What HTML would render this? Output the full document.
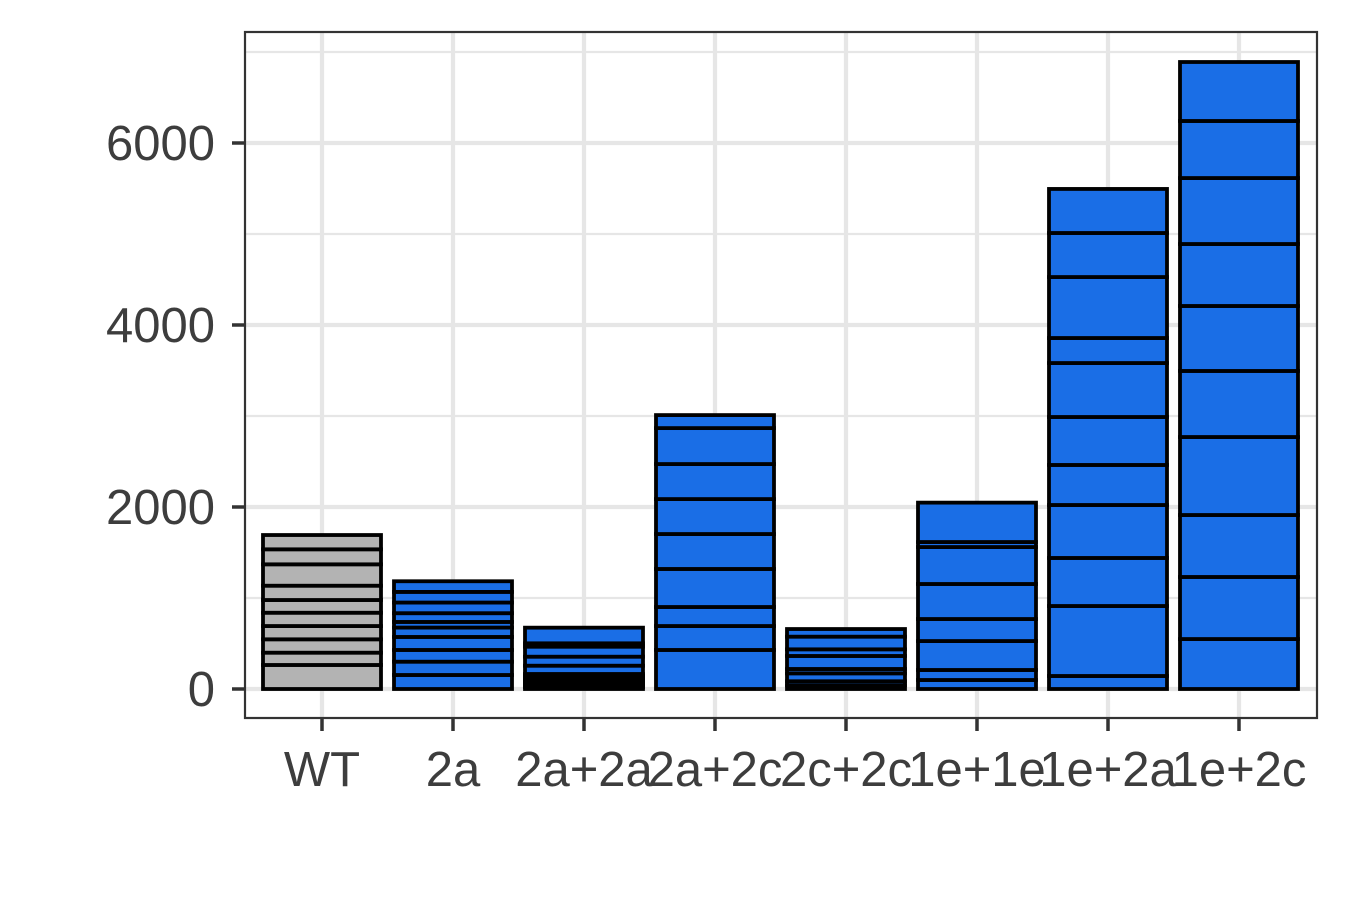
<!DOCTYPE html>
<html><head><meta charset="utf-8"><style>
body{margin:0;background:#fff;}
svg{display:block;font-family:"Liberation Sans",Arial,sans-serif;}
</style></head><body>
<svg id="chart" width="1350" height="900"></svg>
<script>
const categories=["WT","2a","2a+2a","2a+2c","2c+2c","1e+1e","1e+2a","1e+2c"];
const segWT=[264,135,147,146,146,140,157,235,165,157];
const seg2a=[154,146,129,143,103,62,96,117,117,117];
const seg2a2a=[20,18,15,17,16,14,18,16,15,16,91,99,110,37,172];
const seg2a2c=[429,263,209,418,384,384,385,395,143];
const seg2c2c=[40,45,87,48,143,73,139,84];
const seg1e1e=[99,110,318,242,385,406,55,433];
const seg1e2a=[143,769,528,582,440,527,593,275,670,484,484];
const seg1e2c=[549,682,681,857,726,714,681,725,627,648];
const segments=[segWT,seg2a,seg2a2a,seg2a2c,seg2c2c,seg1e1e,seg1e2a,seg1e2c];
const fills=["#b3b3b3","#1a6ee6","#1a6ee6","#1a6ee6","#1a6ee6","#1a6ee6","#1a6ee6","#1a6ee6"];
const yTicks=[0,2000,4000,6000];
const yMinor=[1000,3000,5000,7000];

const svg=document.getElementById('chart');
const NS='http://www.w3.org/2000/svg';
const P={l:245,r:1317,t:32,b:718};
const y=v=>689-v*0.091;
const x=i=>322+i*131;
const bw=118;
function mk(tag,attrs,parent){const e=document.createElementNS(NS,tag);for(const k in attrs)e.setAttribute(k,attrs[k]);(parent||svg).appendChild(e);return e;}
const grid=mk('g',{});


yMinor.forEach(v=>{const l=mk('line',{x1:P.l,x2:P.r,y1:y(v),y2:y(v),stroke:'#e6e6e6','stroke-width':2.2},grid);

});
yTicks.forEach(v=>{const l=mk('line',{x1:P.l,x2:P.r,y1:y(v),y2:y(v),stroke:'#e6e6e6','stroke-width':4.2},grid);

});
categories.forEach((c,i)=>{const l=mk('line',{x1:x(i),x2:x(i),y1:P.t,y2:P.b,stroke:'#e6e6e6','stroke-width':4.2},grid);

});
categories.forEach((c,i)=>{
  const g=mk('g',{});
  
  
  let cum=0;
  segments[i].forEach(v=>{
    const r=mk('rect',{x:x(i)-bw/2,y:y(cum+v),width:bw,height:y(cum)-y(cum+v),fill:fills[i],stroke:'#000','stroke-width':3.8},g);
    
    
    cum+=v;
  });
});
const frame=mk('rect',{x:P.l,y:P.t,width:P.r-P.l,height:P.b-P.t,fill:'none',stroke:'#333','stroke-width':2.2});


yTicks.forEach(v=>{
  const t=mk('line',{x1:P.l-13,x2:P.l,y1:y(v),y2:y(v),stroke:'#333','stroke-width':3.5});
  
  
  const tx=mk('text',{x:P.l-30,y:y(v)+17,'text-anchor':'end','font-size':49,fill:'#3d3d3d'});
  tx.textContent=v;
  
  
});
categories.forEach((c,i)=>{
  const t=mk('line',{x1:x(i),x2:x(i),y1:P.b,y2:P.b+13,stroke:'#333','stroke-width':3.5});
  
  
  const tx=mk('text',{x:x(i),y:786,'text-anchor':'middle','font-size':49,fill:'#3d3d3d'});
  tx.textContent=c;
  
  
});
</script>
</body></html>
